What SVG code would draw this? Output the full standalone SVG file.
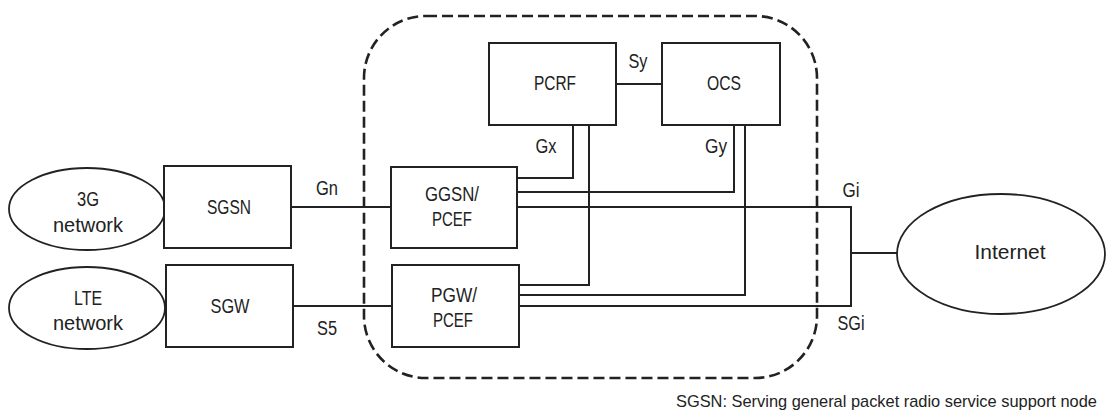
<svg xmlns="http://www.w3.org/2000/svg" width="1107" height="416" viewBox="0 0 1107 416">
  <style>
    .box { fill: #ffffff; stroke: #222222; stroke-width: 2; }
    .cloud { fill: #ffffff; stroke: #222222; stroke-width: 1.8; }
    .wire { fill: none; stroke: #222222; stroke-width: 2; }
    .zone { fill: none; stroke: #222222; stroke-width: 2.6; stroke-dasharray: 11 5; }
    text { font-family: "Liberation Sans", Arial, sans-serif; font-size: 19.5px; fill: #222222; }
    .c { text-anchor: middle; }
    text.note { font-size: 16.4px; }
  </style>
  <rect width="1107" height="416" fill="#ffffff"/>

  <!-- operator core boundary -->
  <rect class="zone" x="364" y="16" width="453" height="362" rx="62" ry="62"/>

  <!-- interfaces -->
  <g id="connectors">
    <path class="wire" d="M291 207 H391"/>
    <path class="wire" d="M293 306 H392"/>
    <path class="wire" d="M616 84 H662"/>
    <path class="wire" d="M573 125 V178 H517"/>
    <path class="wire" d="M589 125 V285 H519"/>
    <path class="wire" d="M734 125 V192 H517"/>
    <path class="wire" d="M745 125 V295 H519"/>
    <path class="wire" d="M517 207 H851 V306 H519"/>
    <path class="wire" d="M851 253 H897"/>
    <text class="c" x="327" y="195" textLength="22" lengthAdjust="spacingAndGlyphs">Gn</text>
    <text class="c" x="327" y="335" textLength="20" lengthAdjust="spacingAndGlyphs">S5</text>
    <text class="c" x="638" y="68" textLength="19" lengthAdjust="spacingAndGlyphs">Sy</text>
    <text class="c" x="546" y="153" textLength="21" lengthAdjust="spacingAndGlyphs">Gx</text>
    <text class="c" x="716" y="153" textLength="22" lengthAdjust="spacingAndGlyphs">Gy</text>
    <text class="c" x="851" y="197" textLength="17" lengthAdjust="spacingAndGlyphs">Gi</text>
    <text class="c" x="851" y="330" textLength="27" lengthAdjust="spacingAndGlyphs">SGi</text>
  </g>

  <g id="net-3g">
    <ellipse class="cloud" cx="87" cy="209" rx="78" ry="41"/>
    <text class="c" x="88" y="206" textLength="22" lengthAdjust="spacingAndGlyphs">3G</text>
    <text class="c" x="88" y="232" textLength="70" lengthAdjust="spacingAndGlyphs">network</text>
  </g>

  <g id="net-lte">
    <ellipse class="cloud" cx="87" cy="308" rx="78" ry="41"/>
    <text class="c" x="88" y="305" textLength="28" lengthAdjust="spacingAndGlyphs">LTE</text>
    <text class="c" x="88" y="330" textLength="70" lengthAdjust="spacingAndGlyphs">network</text>
  </g>

  <g id="sgsn">
    <rect class="box" x="164" y="166" width="127" height="82"/>
    <text class="c" x="229" y="214" textLength="44" lengthAdjust="spacingAndGlyphs">SGSN</text>
  </g>

  <g id="sgw">
    <rect class="box" x="166" y="265" width="127" height="82"/>
    <text class="c" x="230" y="313" textLength="39" lengthAdjust="spacingAndGlyphs">SGW</text>
  </g>

  <g id="pcrf">
    <rect class="box" x="489" y="43" width="127" height="82"/>
    <text class="c" x="555" y="90" textLength="42" lengthAdjust="spacingAndGlyphs">PCRF</text>
  </g>

  <g id="ocs">
    <rect class="box" x="662" y="43" width="118" height="82"/>
    <text class="c" x="724" y="90" textLength="34" lengthAdjust="spacingAndGlyphs">OCS</text>
  </g>

  <g id="ggsn-pcef">
    <rect class="box" x="391" y="167" width="126" height="81"/>
    <text class="c" x="452" y="201" textLength="54" lengthAdjust="spacingAndGlyphs">GGSN/</text>
    <text class="c" x="452" y="226" textLength="40" lengthAdjust="spacingAndGlyphs">PCEF</text>
  </g>

  <g id="pgw-pcef">
    <rect class="box" x="392" y="265" width="127" height="82"/>
    <text class="c" x="454" y="302" textLength="46" lengthAdjust="spacingAndGlyphs">PGW/</text>
    <text class="c" x="453" y="327" textLength="40" lengthAdjust="spacingAndGlyphs">PCEF</text>
  </g>

  <g id="internet">
    <ellipse class="cloud" cx="1001" cy="254" rx="104" ry="60"/>
    <text class="c" x="1010" y="259" textLength="71" lengthAdjust="spacingAndGlyphs">Internet</text>
  </g>

  <text class="note" x="676" y="407" style="font-size:16.4px">SGSN: Serving general packet radio service support node</text>
</svg>
